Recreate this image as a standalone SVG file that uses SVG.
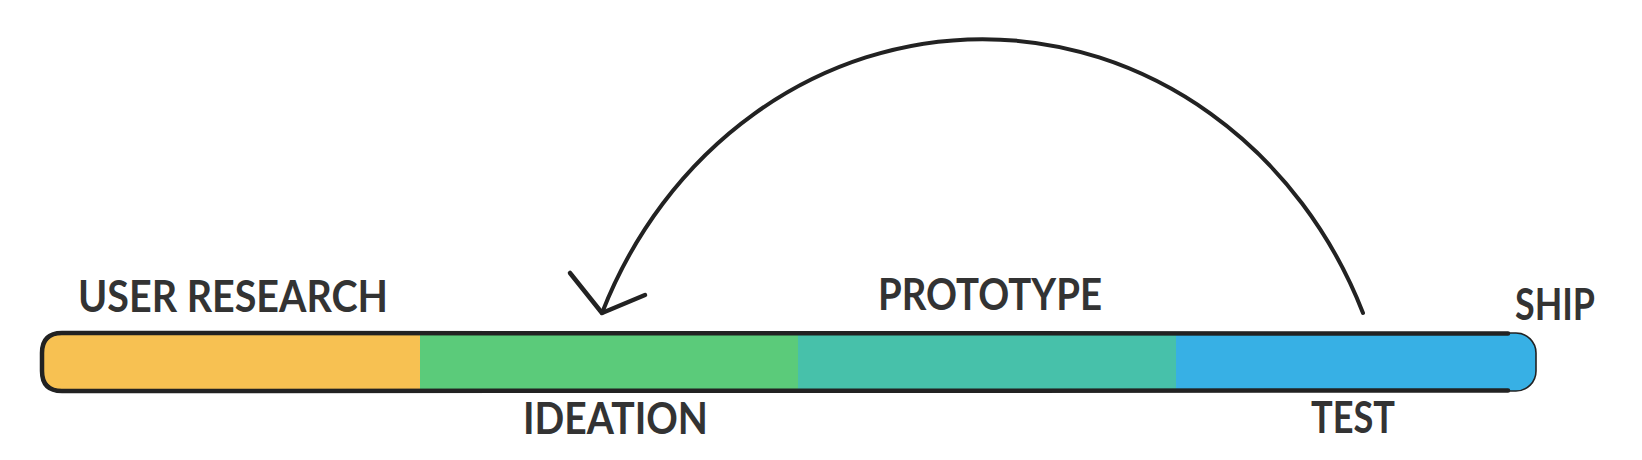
<svg xmlns="http://www.w3.org/2000/svg" width="1642" height="460" viewBox="0 0 1642 460">
  <style>
    .lbl { font-family: Lato, "Liberation Sans", sans-serif; font-weight: 700; font-size: 43px; fill: #333333; }
    .ink { fill: none; stroke: #222; stroke-linecap: round; stroke-linejoin: round; }
  </style>
  <defs>
    <clipPath id="barClip">
      <rect x="42" y="333" width="1494" height="58" rx="20" ry="20"/>
    </clipPath>
  </defs>
  <rect width="1642" height="460" fill="#ffffff"/>

  <g id="bar" clip-path="url(#barClip)">
    <rect id="seg-research" x="42" y="333" width="378" height="58" fill="#F7C152"/>
    <rect id="seg-ideation" x="420" y="333" width="378" height="58" fill="#5BCB7A"/>
    <rect id="seg-prototype" x="798" y="333" width="378" height="58" fill="#47C1AA"/>
    <rect id="seg-test" x="1176" y="333" width="360" height="58" fill="#37B0E5"/>
  </g>
  <g id="bar-outline">
    <rect x="42" y="333" width="1494" height="58" rx="20" ry="20" class="ink" stroke-width="1.6"/>
    <path class="ink" stroke-width="4.5" d="M1508,333.5 L62,333 Q42,333 42,353 L42,371 Q42,391 62,391 L1508,390.5"/>
  </g>

  <g id="node-user-research">
    <text class="lbl" x="78" y="312" textLength="310" lengthAdjust="spacingAndGlyphs">USER RESEARCH</text>
  </g>
  <g id="node-ideation">
    <text class="lbl" x="523" y="434" textLength="185" lengthAdjust="spacingAndGlyphs">IDEATION</text>
  </g>
  <g id="node-prototype">
    <text class="lbl" x="878" y="310" textLength="224" lengthAdjust="spacingAndGlyphs">PROTOTYPE</text>
  </g>
  <g id="node-test">
    <text class="lbl" x="1311" y="433" textLength="84" lengthAdjust="spacingAndGlyphs">TEST</text>
  </g>
  <g id="node-ship">
    <text class="lbl" x="1515" y="320" textLength="80" lengthAdjust="spacingAndGlyphs">SHIP</text>
  </g>

  <g id="connectors">
    <path id="loop-back" class="ink" stroke-width="4" d="M1363,313 A413,448 0 0 0 602,313"/>
    <path id="loop-back-head" class="ink" stroke-width="4.5" d="M570,273 L602,313 L645,295"/>
  </g>
</svg>
